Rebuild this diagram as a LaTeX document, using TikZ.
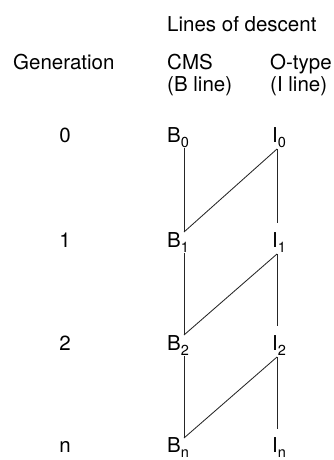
\documentclass[tikz,border=0pt]{standalone}
\usepackage{fontspec}
\setmainfont{TeX Gyre Heros}
\newcommand{\lbl}[2]{#1\raisebox{-0.25em}{\fontsize{14.5}{14.5}\selectfont #2}}
\tikzset{
  txt/.style={inner sep=0pt, font=\fontsize{20.5}{24}\selectfont},
  hdr/.style={txt, anchor=base west},
  gen/.style={txt, anchor=base},
  lineage/.style={line width=0.85pt, draw=black!85}
}
\begin{document}
\begin{tikzpicture}[x=1pt,y=-1pt]
  \useasboundingbox (0,0) rectangle (333,460);

  % column headings
  \node[hdr] (title) at (167,32) {Lines of descent};
  \node[hdr] (genhdr) at (13,70) {Generation};
  \node[hdr] (cms) at (167,70) {CMS};
  \node[hdr] (otype) at (270,70) {O-type};
  \node[hdr] (bline) at (167,91) {(B line)};
  \node[hdr] (iline) at (270,91) {(I line)};

  % generations and cells of each line
  \foreach \g/\s/\y in {0/0/142, 1/1/247, 2/2/350, n/n/452} {
    \node[gen] (g\s) at (65,\y) {\g};
    \node[hdr] (b\s) at (167,\y) {\lbl{B}{\g}};
    \node[hdr] (i\s) at (272,\y) {\lbl{I}{\g}};
  }

  % attachment points of the connectors
  \foreach \s/\y in {0/142, 1/247, 2/350} {
    \coordinate (bdown\s) at (184,\y+6);
    \coordinate (idown\s) at (277,\y+7);
  }
  \foreach \s/\y in {1/247, 2/350, n/453} {
    \coordinate (bup\s) at (184,\y-15);
    \coordinate (iup\s) at (277,\y-24);
  }

  % descent: B stays B, I comes from the previous I and yields a B
  \foreach \a/\b in {0/1, 1/2, 2/n} {
    \draw[lineage] (bdown\a) -- (bup\b);
    \draw[lineage] (idown\a) -- (iup\b);
    \draw[lineage] (idown\a) -- (bup\b);
  }
\end{tikzpicture}
\end{document}
